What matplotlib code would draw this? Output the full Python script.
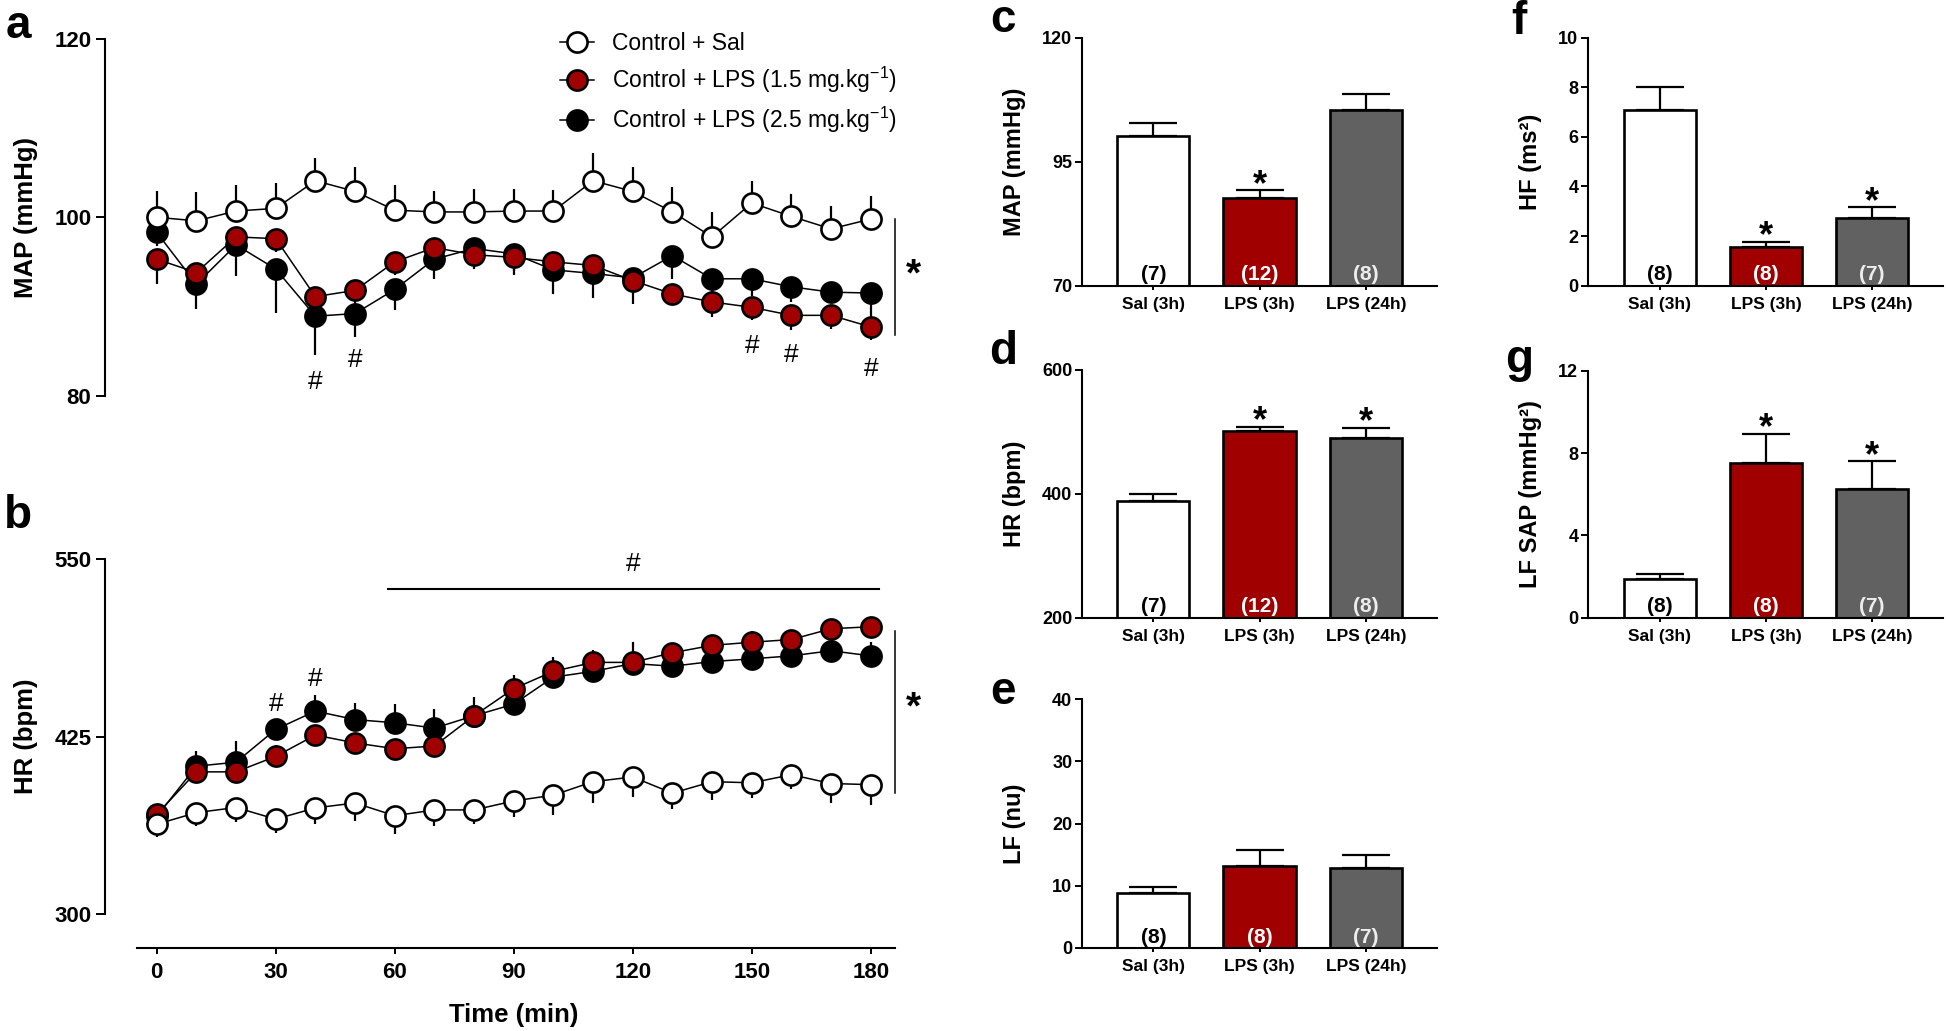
import matplotlib
matplotlib.use("Agg")
import matplotlib.pyplot as plt
import numpy as np

plt.rcParams['font.family'] = ['Liberation Sans', 'DejaVu Sans']
plt.rcParams['mathtext.fontset'] = 'custom'
plt.rcParams['mathtext.rm'] = 'Liberation Sans'
plt.rcParams['mathtext.default'] = 'regular'

# ---------------- data ----------------
time = [0, 10, 20, 30, 40, 50, 60, 70, 80, 90, 100, 110, 120, 130, 140, 150, 160, 170, 180]

map_sal = [100.0, 99.6, 100.7, 101.0, 104.1, 102.9, 100.8, 100.6, 100.6, 100.7, 100.7, 104.1, 102.9, 100.6, 97.8, 101.6, 100.1, 98.7, 99.8]
map_sal_err = [3.0, 3.2, 2.9, 2.9, 2.6, 2.7, 2.8, 2.4, 2.6, 2.5, 2.4, 3.1, 2.7, 2.8, 2.8, 2.5, 2.5, 2.6, 2.6]
map_lps15 = [95.3, 93.8, 97.8, 97.6, 91.1, 91.8, 95.0, 96.6, 95.8, 95.5, 95.0, 94.6, 92.9, 91.4, 90.5, 89.9, 89.0, 89.0, 87.7]
map_lps15_err = [2.8, 1.5, 1.5, 1.5, 1.5, 1.5, 1.5, 1.5, 1.6, 1.5, 1.5, 1.5, 1.5, 1.1, 1.7, 1.4, 1.7, 1.5, 1.5]
map_lps25 = [98.3, 92.5, 96.9, 94.2, 88.9, 89.2, 91.9, 95.3, 96.5, 95.9, 94.1, 93.7, 93.2, 95.7, 93.1, 93.1, 92.2, 91.6, 91.5]
map_lps25_err = [1.5, 2.8, 3.5, 4.9, 4.3, 2.6, 2.3, 2.2, 1.9, 2.4, 2.7, 2.7, 2.9, 2.6, 1.9, 1.9, 1.7, 1.1, 3.0]

hr_sal = [363.2, 371.4, 375.0, 366.8, 374.7, 378.2, 369.2, 373.3, 373.3, 379.6, 383.7, 393.2, 396.5, 385.1, 393.2, 392.4, 398.1, 391.9, 391.1]
hr_sal_err = [8.7, 9.5, 10, 10, 11, 13, 13, 11, 10, 11, 14, 15, 14, 11, 13, 11, 10, 14, 14]
hr_lps15 = [370.1, 400.1, 400.1, 411.0, 426.0, 420.5, 416.4, 418.3, 439.6, 458.7, 470.9, 477.2, 477.2, 484.0, 489.2, 491.4, 493.3, 500.9, 502.3]
hr_lps15_err = [4, 4, 4, 8, 5.5, 5, 5, 5, 5, 9.5, 10, 8.7, 8, 6, 5.5, 7.6, 5, 5, 7]
hr_lps25 = [368.7, 404.1, 406.9, 430.0, 442.9, 436.9, 434.7, 430.9, 439.6, 447.8, 466.8, 470.9, 476.4, 474.5, 477.8, 479.7, 481.8, 485.4, 481.8]
hr_lps25_err = [5, 11, 15, 7, 11, 11.5, 13, 13.6, 13, 8, 6, 8, 15.5, 8, 6, 6, 6, 5, 10]

series_labels = ['Control + Sal', 'Control + LPS (1.5 mg.kg$^{-1}$)', 'Control + LPS (2.5 mg.kg$^{-1}$)']

# '#' annotations (time, value)
map_hash_t = [40, 50, 150, 160, 180]
map_hash_y = [81.5, 84.0, 85.6, 84.5, 83.0]
hr_hash_t = [30, 40]
hr_hash_y = [447.8, 465.5]

groups = ['Sal (3h)', 'LPS (3h)', 'LPS (24h)']
map_bar = [100.2, 87.6, 105.4]
map_bar_err = [2.7, 1.6, 3.2]
hr_bar = [387.9, 501.5, 490.2]
hr_bar_err = [12.4, 7.0, 16.1]
lf_bar = [8.9, 13.2, 12.8]
lf_bar_err = [0.9, 2.5, 2.2]
hf_bar = [7.08, 1.57, 2.72]
hf_bar_err = [0.94, 0.19, 0.44]
lfsap_bar = [1.90, 7.53, 6.25]
lfsap_bar_err = [0.21, 1.40, 1.34]

n_c = ['(7)', '(12)', '(8)']
n_d = ['(7)', '(12)', '(8)']
n_e = ['(8)', '(8)', '(7)']
n_f = ['(8)', '(8)', '(7)']
n_g = ['(8)', '(8)', '(7)']
star_c = [False, True, False]
star_d = [False, True, True]
star_e = [False, False, False]
star_f = [False, True, True]
star_g = [False, True, True]

RED = '#A00000'
GRAY = '#616161'
bar_colors = ['white', RED, GRAY]
n_colors = ['black', 'white', '#EDEDED']

# ---------------- figure ----------------
W, H = 1946, 1031
fig = plt.figure(figsize=(W / 100, H / 100), dpi=100)


def add_ax(l, t, r, b):
    return fig.add_axes([l / W, 1 - b / H, (r - l) / W, (b - t) / H])


def ftext(x, y, s, **kw):
    fig.text(x / W, 1 - y / H, s, **kw)


LW = 1.5  # spine width (pt)

# ---- panel a (MAP time course) ----
axa = add_ax(104.5, 30.1, 934.2, 422.3)
axa.set_xlim(-13.16, 196)
axa.set_ylim(77, 121)
# ---- panel b (HR time course) ----
axb = add_ax(104.5, 550.5, 934.2, 956.6)
axb.set_xlim(-13.16, 196)
axb.set_ylim(270, 556)


def draw_series(ax, y, err, face, z, up, label):
    err = np.asarray(err)
    yerr = [np.zeros_like(err), err] if up else [err, np.zeros_like(err)]
    ax.errorbar(time, y, yerr=yerr, fmt='none', ecolor='black', elinewidth=1.6,
                capsize=0, zorder=z)
    ln, = ax.plot(time, y, '-o', color='black', lw=1.1, ms=14.5, mfc=face, mec='black',
                  mew=1.9, zorder=z + 0.5, label=label)
    return ln


ha = []
ha.append(draw_series(axa, map_lps25, map_lps25_err, 'black', 3, False, series_labels[2]))
ha.append(draw_series(axa, map_lps15, map_lps15_err, RED, 4, False, series_labels[1]))
ha.append(draw_series(axa, map_sal, map_sal_err, 'white', 5, True, series_labels[0]))

draw_series(axb, hr_lps25, hr_lps25_err, 'black', 3, True, series_labels[2])
draw_series(axb, hr_lps15, hr_lps15_err, RED, 4, True, series_labels[1])
draw_series(axb, hr_sal, hr_sal_err, 'white', 5, False, series_labels[0])

for ax in (axa, axb):
    for s in ('top', 'right'):
        ax.spines[s].set_visible(False)
    ax.spines['left'].set_linewidth(LW)
    ax.tick_params(axis='both', direction='out', length=6.5, width=1.4, labelsize=16, pad=3)

axa.spines['bottom'].set_visible(False)
axa.spines['left'].set_bounds(80, 120)
axa.set_yticks([80, 100, 120])
axa.set_xticks([])
for lab in axa.get_yticklabels():
    lab.set_fontweight('bold')

axb.spines['left'].set_bounds(300, 550)
axb.spines['bottom'].set_position(('data', 276.1))
axb.spines['bottom'].set_bounds(-5, 186)
axb.spines['bottom'].set_linewidth(LW)
axb.set_yticks([300, 425, 550])
axb.set_xticks([0, 30, 60, 90, 120, 150, 180])
axb.tick_params(axis='x', length=4, pad=6)
for lab in axb.get_yticklabels() + axb.get_xticklabels():
    lab.set_fontweight('bold')

# annotations panel a
for t, v in zip(map_hash_t, map_hash_y):
    axa.text(t, v, '#', ha='center', va='center', fontsize=19, zorder=6)
axa.plot([186, 186], [86.8, 99.8], color='black', lw=1.1, clip_on=False)
axa.text(190.8, 93.5, '*', ha='center', va='center', fontsize=28, fontweight='bold')

# annotations panel b
for t, v in zip(hr_hash_t, hr_hash_y):
    axb.text(t, v, '#', ha='center', va='center', fontsize=19, zorder=6)
axb.plot([58.3, 182.2], [529, 529], color='black', lw=1.5, clip_on=False)
axb.text(120, 546.5, '#', ha='center', va='center', fontsize=19, clip_on=False)
axb.plot([186, 186], [385, 499.6], color='black', lw=1.1, clip_on=False)
axb.text(190.8, 445, '*', ha='center', va='center', fontsize=28, fontweight='bold')

# legend
leg = axa.legend(handles=ha[::-1], loc='upper left',
                 bbox_to_anchor=(560 / W, 1 - 32 / H), bbox_transform=fig.transFigure,
                 frameon=False, fontsize=16.5, handlelength=1.5, handletextpad=0.75,
                 labelspacing=0.42, borderpad=0, borderaxespad=0)
for h in leg.legend_handles:
    h.set_markersize(14.5)

# axis labels
ftext(26, 217, 'MAP (mmHg)', rotation=90, ha='center', va='center', fontsize=18.5, fontweight='bold')
ftext(26, 736, 'HR (bpm)', rotation=90, ha='center', va='center', fontsize=18.5, fontweight='bold')
ftext(514, 1015, 'Time (min)', ha='center', va='center', fontsize=18.5, fontweight='bold')

# panel letters
for (x, y, s) in [(18, 26, 'a'), (18, 516, 'b'), (1003, 20, 'c'), (1003, 352, 'd'),
                  (1003, 692, 'e'), (1519, 22, 'f'), (1519, 360, 'g')]:
    ftext(x, y, s, ha='center', va='center', fontsize=33, fontweight='bold')


# ---- bar panels ----
def bar_panel(l, t, r, b, xl, vals, errs, ns, stars, yticks, ylabel, lab_x):
    ax = add_ax(l, t, r, b)
    xs = np.arange(len(groups))
    ax.bar(xs, vals, width=0.68, color=bar_colors, edgecolor='black', linewidth=1.9, zorder=2)
    ax.errorbar(xs, vals, yerr=[np.zeros(len(vals)), errs], fmt='none', ecolor='black',
                elinewidth=1.6, capsize=17, capthick=1.6, zorder=1)
    ax.set_xlim(*xl)
    ax.set_ylim(yticks[0], yticks[-1])
    ax.set_yticks(yticks)
    ax.set_xticks(xs)
    ax.set_xticklabels(groups)
    for s in ('top', 'right'):
        ax.spines[s].set_visible(False)
    for s in ('left', 'bottom'):
        ax.spines[s].set_linewidth(LW)
        ax.spines[s].set_zorder(3)
    ax.tick_params(axis='y', direction='out', length=5, width=1.4, labelsize=13, pad=2)
    ax.tick_params(axis='x', direction='out', length=3, width=1.4, labelsize=12.5, pad=5)
    for lab in ax.get_yticklabels() + ax.get_xticklabels():
        lab.set_fontweight('bold')
    for i in range(len(groups)):
        ax.annotate(ns[i], (xs[i], yticks[0]), xytext=(0, 1), textcoords='offset points',
                    ha='center', va='bottom', fontsize=15, fontweight='bold', color=n_colors[i],
                    zorder=4)
        if stars[i]:
            ax.annotate('*', (xs[i], vals[i] + errs[i]), xytext=(0, -9), textcoords='offset points',
                        ha='center', va='bottom', fontsize=26, fontweight='bold')
    ftext(lab_x, (t + b) / 2, ylabel, rotation=90, ha='center', va='center',
          fontsize=17, fontweight='bold')
    return ax


XL1 = (-0.671, 2.669)
XL2 = (-0.679, 2.67)
bar_panel(1082, 37.7, 1437, 285.7, XL1, map_bar, map_bar_err, n_c, star_c, [70, 95, 120], 'MAP (mmHg)', 1015)
bar_panel(1082, 370, 1437, 617.7, XL1, hr_bar, hr_bar_err, n_d, star_d, [200, 400, 600], 'HR (bpm)', 1015)
bar_panel(1082, 699, 1437, 948, XL1, lf_bar, lf_bar_err, n_e, star_e, [0, 10, 20, 30, 40], 'LF (nu)', 1015)
bar_panel(1588, 37.7, 1943, 285.7, XL2, hf_bar, hf_bar_err, n_f, star_f, [0, 2, 4, 6, 8, 10], 'HF (ms²)', 1531)
bar_panel(1588, 370.7, 1943, 617.7, XL2, lfsap_bar, lfsap_bar_err, n_g, star_g, [0, 4, 8, 12], 'LF SAP (mmHg²)', 1531)

fig.savefig('out.png', dpi=100)
